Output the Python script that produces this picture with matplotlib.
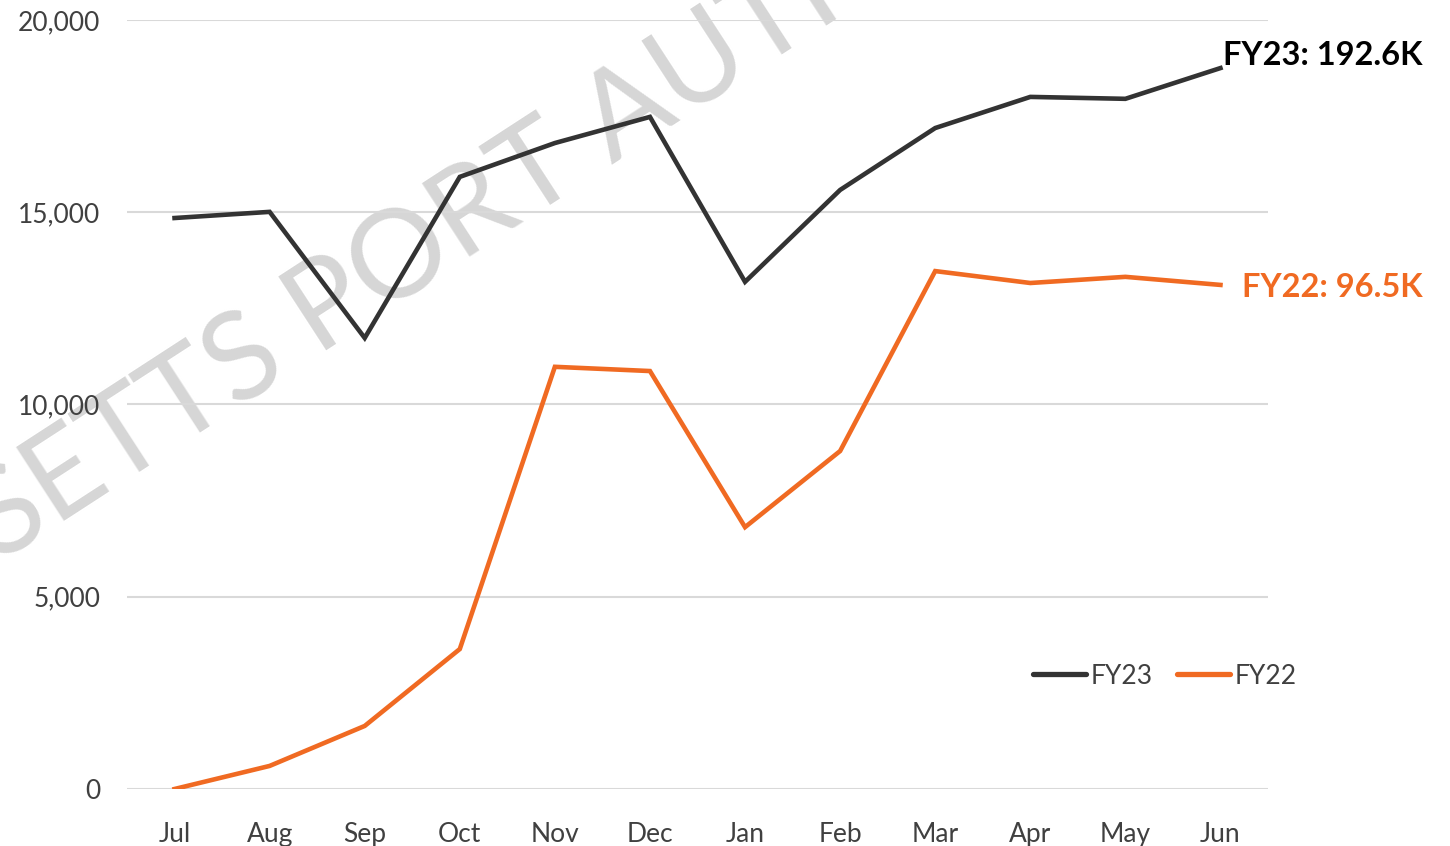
import numpy as np
import matplotlib
matplotlib.use("Agg")
import matplotlib.pyplot as plt
from matplotlib.ticker import FuncFormatter

# -------------------------------------------------------------
# Data
# -------------------------------------------------------------
months = ["Jul", "Aug", "Sep", "Oct", "Nov", "Dec",
          "Jan", "Feb", "Mar", "Apr", "May", "Jun"]
fy23 = [14850, 15010, 11730, 15920, 16800, 17480,
        13190, 15580, 17190, 18000, 17950, 18750]
fy22 = [0, 600, 1640, 3640, 10980, 10870,
        6810, 8790, 13470, 13160, 13320, 13110]
fy23_total = "FY23: 192.6K"
fy22_total = "FY22: 96.5K"

# colours
dark = "#333333"
orange = "#F06A22"
text_grey = "#404040"
grid_grey = "#D9D9D9"
mark_grey = "#D6D6D6"

plt.rcParams["font.family"] = ["Lato", "DejaVu Sans"]

# -------------------------------------------------------------
# Figure and axes
# -------------------------------------------------------------
W, H = 1450, 846
fig = plt.figure(figsize=(W / 100, H / 100), dpi=100)
ax = fig.add_axes([127 / W, 1 - 789 / H, (1268 - 127) / W, (789 - 20) / H])

x = np.arange(len(months))
ax.plot(x, fy23, color=dark, lw=3.3, solid_joinstyle="miter", label="FY23", zorder=3)
ax.plot(x, fy22, color=orange, lw=3.3, solid_joinstyle="miter", label="FY22", zorder=3)

ax.set_xlim(-0.5, len(months) - 0.5)
ax.set_ylim(0, 20000)
ax.set_yticks(np.arange(0, 20001, 5000))
ax.yaxis.set_major_formatter(FuncFormatter(lambda v, p: f"{v:,.0f}"))
ax.set_xticks(x)
ax.set_xticklabels(months)

ax.set_axisbelow(True)
ax.grid(axis="y", color=grid_grey, lw=1.5)
for s in ax.spines.values():
    s.set_visible(False)
ax.tick_params(axis="both", length=0, labelsize=19, colors=text_grey)
ax.tick_params(axis="y", pad=19)
ax.tick_params(axis="x", pad=24)

# end labels
ax.annotate(fy23_total, xy=(x[-1], fy23[-1]), xytext=(3, -2), textcoords="offset pixels",
            ha="left", va="bottom", fontsize=23.5, fontweight="bold", color="black",
            annotation_clip=False)
ax.annotate(fy22_total, xy=(x[-1], fy22[-1]), xytext=(22, -3), textcoords="offset pixels",
            ha="left", va="center", fontsize=23.5, fontweight="bold", color=orange,
            annotation_clip=False)

# legend
leg = ax.legend(loc="center", bbox_to_anchor=(1165 / W, 1 - 676 / H),
                bbox_transform=fig.transFigure, ncol=2, frameon=False,
                fontsize=19, handlelength=2.0, handletextpad=0.2,
                columnspacing=0.9, borderaxespad=0)
for t in leg.get_texts():
    t.set_color(text_grey)
for h in leg.get_lines():
    h.set_linewidth(3.8)
    h.set_solid_capstyle("round")

# -------------------------------------------------------------
# Watermark (anchored at the start of "PORT"), behind grid and labels
# -------------------------------------------------------------
anchor = (317 / W, 1 - 356 / H)
mark_kw = dict(transform=fig.transFigure, rotation=33, rotation_mode="anchor",
               va="baseline", fontsize=88, fontweight="normal", color=mark_grey,
               clip_on=False, zorder=0.1)
ax.text(*anchor, "MASSACHUSETTS ", ha="right", **mark_kw)
ax.text(*anchor, "PORT AUTHORITY", ha="left", **mark_kw)

fig.savefig("out.png", dpi=100)
